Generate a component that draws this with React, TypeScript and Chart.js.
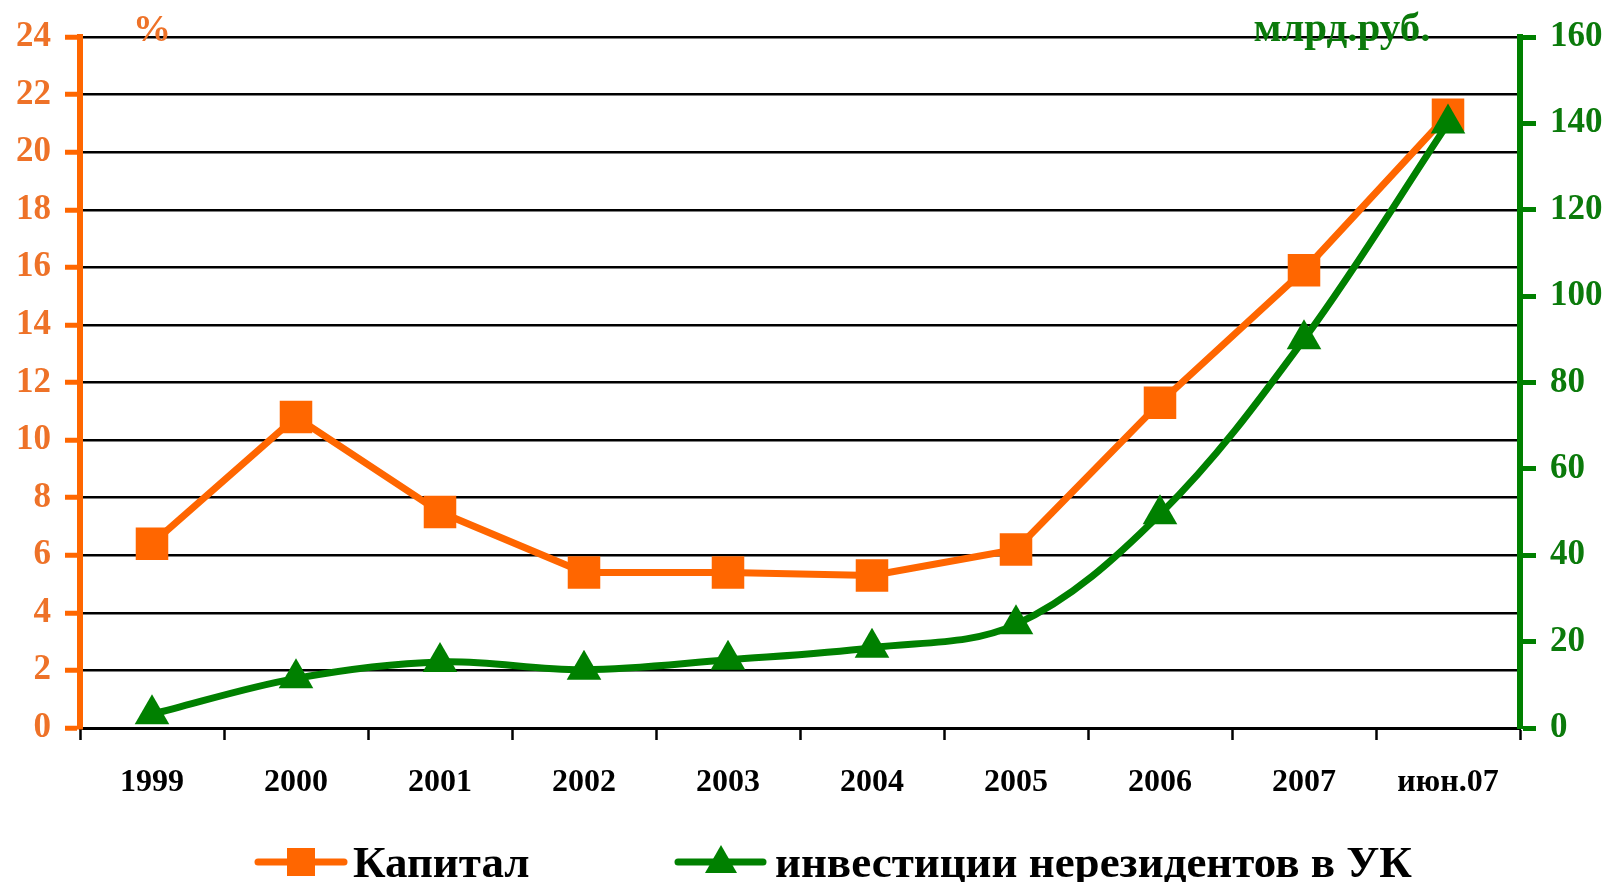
import React, { useEffect, useRef } from 'react';
import { Chart, registerables } from 'chart.js';

Chart.register(...registerables);

const categories = ['1999', '2000', '2001', '2002', '2003', '2004', '2005', '2006', '2007', 'июн.07'];
const capitalPct = [6.4, 10.8, 7.5, 5.4, 5.4, 5.3, 6.2, 11.3, 15.9, 21.3];
const nonresidentInvest = [3.2, 11.5, 15.3, 13.5, 15.8, 18.6, 24, 49.5, 90, 140];
const seriesNames = ['Капитал', 'инвестиции нерезидентов в УК'];
const leftUnit = '%';
const rightUnit = 'млрд.руб.';
const leftRange = { min: 0, max: 24, step: 2 };
const rightRange = { min: 0, max: 160, step: 20 };

const ORANGE = '#FF6600';
const ORANGE_TEXT = '#EE7228';
const GREEN = '#008000';
const GREEN_TEXT = '#0B7A0B';
const FONT = "'Liberation Serif', 'Times New Roman', serif";

const extrasPlugin = {
  id: 'extras',
  afterDraw(chart: any) {
    const ctx = chart.ctx;
    ctx.save();
    // unit titles
    ctx.textBaseline = 'alphabetic';
    ctx.textAlign = 'center';
    ctx.font = `bold 38px ${FONT}`;
    ctx.fillStyle = ORANGE_TEXT;
    ctx.fillText(leftUnit, 152, 41);
    ctx.font = `bold 41px ${FONT}`;
    ctx.fillStyle = GREEN_TEXT;
    ctx.fillText(rightUnit, 1342, 41);

    // legend
    const ly = 862;
    ctx.lineCap = 'round';
    ctx.lineWidth = 7;
    // item 1
    ctx.strokeStyle = ORANGE;
    ctx.beginPath();
    ctx.moveTo(258, ly);
    ctx.lineTo(344, ly);
    ctx.stroke();
    ctx.fillStyle = ORANGE;
    ctx.fillRect(301 - 14, ly - 14, 28, 28);
    // item 2
    ctx.strokeStyle = GREEN;
    ctx.beginPath();
    ctx.moveTo(678, ly);
    ctx.lineTo(763, ly);
    ctx.stroke();
    ctx.fillStyle = GREEN;
    ctx.beginPath();
    ctx.moveTo(721, ly - 17);
    ctx.lineTo(737, ly + 11);
    ctx.lineTo(705, ly + 11);
    ctx.closePath();
    ctx.fill();

    ctx.font = `bold 45px ${FONT}`;
    ctx.textAlign = 'left';
    ctx.fillStyle = '#000000';
    ctx.fillText(seriesNames[0], 353, 877);
    ctx.fillText(seriesNames[1], 775, 877);
    ctx.restore();
  },
};

export default function App() {
  const canvasRef = useRef<HTMLCanvasElement | null>(null);

  useEffect(() => {
    if (!canvasRef.current) return;
    Chart.defaults.font.family = FONT;
    const chart = new Chart(canvasRef.current, {
      type: 'line',
      data: {
        labels: categories,
        datasets: [
          {
            label: seriesNames[0],
            data: capitalPct,
            yAxisID: 'y',
            order: 1,
            borderColor: ORANGE,
            backgroundColor: ORANGE,
            borderWidth: 7,
            pointStyle: 'rect',
            pointRadius: 23,
            pointBackgroundColor: ORANGE,
            pointBorderColor: ORANGE,
            pointBorderWidth: 0,
            tension: 0,
            clip: false,
          },
          {
            label: seriesNames[1],
            data: nonresidentInvest,
            yAxisID: 'y1',
            order: 0,
            borderColor: GREEN,
            backgroundColor: GREEN,
            borderWidth: 7,
            pointStyle: 'triangle',
            pointRadius: 20,
            pointBackgroundColor: GREEN,
            pointBorderColor: GREEN,
            pointBorderWidth: 0,
            tension: 0.35,
            clip: false,
          },
        ],
      },
      options: {
        animation: false,
        responsive: true,
        maintainAspectRatio: false,
        events: [],
        layout: { padding: { top: 37, bottom: 0, left: 0, right: 0 } },
        plugins: {
          legend: { display: false },
          tooltip: { enabled: false },
          title: { display: false },
        },
        scales: {
          x: {
            type: 'category',
            offset: true,
            grid: {
              offset: true,
              drawOnChartArea: false,
              drawTicks: true,
              tickLength: 12,
              tickColor: '#000000',
              tickWidth: 2.5,
            },
            border: { color: '#000000', width: 3 },
            ticks: {
              color: '#000000',
              font: { size: 32, weight: 'bold', family: FONT },
              padding: 24,
              maxRotation: 0,
              autoSkip: false,
            },
            afterFit: (scale: any) => {
              scale.height = 154;
            },
          },
          y: {
            type: 'linear',
            position: 'left',
            min: leftRange.min,
            max: leftRange.max,
            grid: {
              color: '#000000',
              lineWidth: 2.5,
              drawTicks: true,
              tickLength: 15,
              tickColor: ORANGE,
              tickWidth: 5,
            },
            border: { color: ORANGE, width: 6 },
            ticks: {
              stepSize: leftRange.step,
              color: ORANGE_TEXT,
              font: { size: 35, weight: 'bold', family: FONT },
              padding: 14,
            },
            afterFit: (scale: any) => {
              scale.width = 80;
            },
          },
          y1: {
            type: 'linear',
            position: 'right',
            min: rightRange.min,
            max: rightRange.max,
            grid: {
              drawOnChartArea: false,
              drawTicks: true,
              tickLength: 16,
              tickColor: GREEN,
              tickWidth: 5,
            },
            border: { color: GREEN, width: 6 },
            ticks: {
              stepSize: rightRange.step,
              color: GREEN_TEXT,
              font: { size: 35, weight: 'bold', family: FONT },
              padding: 14,
            },
            afterFit: (scale: any) => {
              scale.width = 90;
            },
          },
        },
      },
      plugins: [extrasPlugin],
    });
    return () => chart.destroy();
  }, []);

  return (
    <div style={{ position: 'fixed', left: 0, top: 0, width: 1610, height: 882, background: '#ffffff' }}>
      <canvas ref={canvasRef} />
    </div>
  );
}
